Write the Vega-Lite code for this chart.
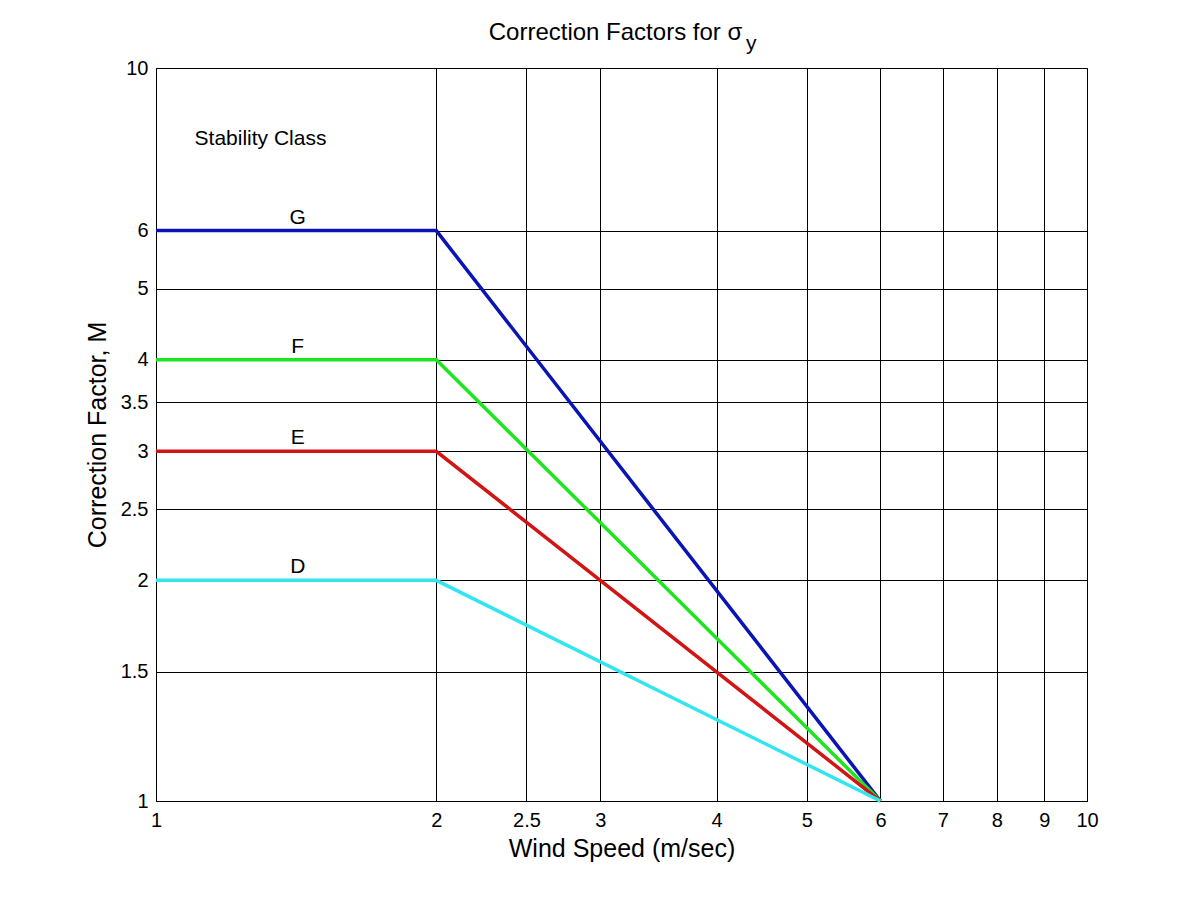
{
  "$schema": "https://vega.github.io/schema/vega-lite/v6.json",
  "width": 931,
  "height": 733,
  "autosize": "none",
  "padding": {"left": 156, "top": 68, "right": 114, "bottom": 100},
  "background": "white",
  "config": {
    "font": "Liberation Sans",
    "view": {"stroke": "black", "strokeWidth": 1},
    "axis": {
      "grid": true,
      "gridColor": "black",
      "gridOpacity": 1,
      "gridWidth": 1,
      "domain": false,
      "ticks": false,
      "labelFlush": false,
      "labelOverlap": false,
      "labelFont": "Liberation Sans",
      "labelFontSize": 20,
      "labelColor": "black",
      "titleFont": "Liberation Sans",
      "titleFontSize": 25,
      "titleFontWeight": "normal",
      "titleColor": "black"
    }
  },
  "title": {
    "text": "Correction Factors for σ",
    "font": "Liberation Sans",
    "fontSize": 24,
    "fontWeight": "normal",
    "color": "black",
    "anchor": "middle",
    "dx": -6,
    "offset": -12
  },
  "datasets": {
    "curves": [
      {"ws": 1, "m": 6, "cls": "G"}, {"ws": 2, "m": 6, "cls": "G"}, {"ws": 6, "m": 1, "cls": "G"},
      {"ws": 1, "m": 4, "cls": "F"}, {"ws": 2, "m": 4, "cls": "F"}, {"ws": 6, "m": 1, "cls": "F"},
      {"ws": 1, "m": 3, "cls": "E"}, {"ws": 2, "m": 3, "cls": "E"}, {"ws": 6, "m": 1, "cls": "E"},
      {"ws": 1, "m": 2, "cls": "D"}, {"ws": 2, "m": 2, "cls": "D"}, {"ws": 6, "m": 1, "cls": "D"}
    ],
    "labels": [
      {"ws": 1.42, "m": 6, "cls": "G"},
      {"ws": 1.42, "m": 4, "cls": "F"},
      {"ws": 1.42, "m": 3, "cls": "E"},
      {"ws": 1.42, "m": 2, "cls": "D"}
    ],
    "notes": [
      {"ws": 1.1, "m": 8, "txt": "Stability Class"}
    ],
    "sub": [
      {"ws": 4.36, "m": 10.8, "txt": "y"}
    ]
  },
  "encoding": {
    "x": {
      "field": "ws", "type": "quantitative",
      "scale": {"type": "log", "domain": [1, 10], "nice": false},
      "axis": {"title": "Wind Speed (m/sec)", "values": [1, 2, 2.5, 3, 4, 5, 6, 7, 8, 9, 10], "format": "~g", "labelPadding": 9, "titlePadding": 6}
    },
    "y": {
      "field": "m", "type": "quantitative",
      "scale": {"type": "log", "domain": [1, 10], "nice": false},
      "axis": {"title": "Correction Factor, M", "values": [1, 1.5, 2, 2.5, 3, 3.5, 4, 5, 6, 10], "format": "~g", "labelPadding": 8, "titlePadding": 10}
    }
  },
  "layer": [
    {
      "data": {"name": "curves"},
      "mark": {"type": "line", "strokeWidth": 3.5},
      "encoding": {
        "color": {
          "field": "cls", "type": "nominal", "legend": null,
          "scale": {"domain": ["G", "F", "E", "D"], "range": ["#0a14b4", "#1ee61e", "#d21414", "#32e6f0"]}
        }
      }
    },
    {
      "data": {"name": "labels"},
      "mark": {"type": "text", "fontSize": 21, "baseline": "bottom", "dy": -3, "color": "black", "font": "Liberation Sans"},
      "encoding": {"text": {"field": "cls"}}
    },
    {
      "data": {"name": "notes"},
      "mark": {"type": "text", "fontSize": 21, "align": "left", "baseline": "middle", "color": "black", "font": "Liberation Sans"},
      "encoding": {"text": {"field": "txt"}}
    },
    {
      "data": {"name": "sub"},
      "mark": {"type": "text", "fontSize": 21, "align": "center", "baseline": "middle", "color": "black", "font": "Liberation Sans"},
      "encoding": {"text": {"field": "txt"}}
    }
  ]
}
